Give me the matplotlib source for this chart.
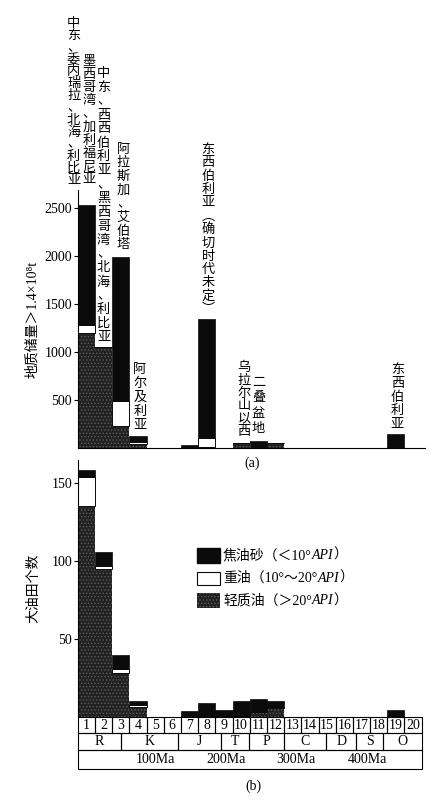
import matplotlib
matplotlib.use('Agg')
import matplotlib.pyplot as plt
from matplotlib.patches import Rectangle

plt.rcParams['font.family'] = ['Liberation Serif', 'Noto Sans CJK SC', 'DejaVu Sans']
plt.rcParams['hatch.linewidth'] = 0.6

# ---- data ----
bins = list(range(1, 21))

# (a) reserves, per age bin
res_light = [1200, 1050, 230, 45, 0, 0, 0, 10, 0, 55, 0, 50, 0, 0, 0, 0, 0, 0, 0, 0]
res_heavy = [80, 0, 260, 15, 0, 0, 0, 90, 0, 0, 0, 0, 0, 0, 0, 0, 0, 0, 0, 0]
res_tar = [1250, 0, 1500, 60, 0, 0, 30, 1240, 0, 0, 70, 0, 0, 0, 0, 0, 0, 0, 150, 0]

# (b) number of giant fields, per age bin
cnt_light = [135, 95, 28, 6.5, 0, 0, 0, 0, 0, 0, 3, 5.5, 0, 0, 0, 0, 0, 0, 0, 0]
cnt_heavy = [19, 2, 3, 1, 0, 0, 0, 0, 0, 0, 0, 1, 0, 0, 0, 0, 0, 0, 0, 0]
cnt_tar = [4, 8.5, 9, 3, 0, 0, 4, 8.8, 4.5, 10.5, 8.5, 3.5, 0, 0, 0, 0, 0, 0, 4.5, 0]

res_labels = ['中东、委内瑞拉、北海、利比亚', '墨西哥湾、加利福尼亚',
              '中东、西西伯利亚、黑西哥湾、北海、利比亚', '阿拉斯加、艾伯塔',
              '阿尔及利亚', '东西伯利亚︵确切时代未定︶', '乌拉尔山以西',
              '二叠盆地', '东西伯利亚']
# label placement: x centre, top, bottom (data units of panel a)
res_label_pos = [(-0.24, 4479, 2719), (0.66, 4094, 2719), (1.50, 3969, 1073),
                 (2.66, 3177, 2042), (3.62, 885, 156), (7.58, 3177, 1365),
                 (9.67, 896, 104), (10.51, 760, 115), (18.59, 885, 167)]

periods = ['R', 'K', 'J', 'T', 'P', 'C', 'D', 'S', 'O']
period_edges = [0, 2.52, 5.85, 8.33, 9.98, 12.0, 14.44, 16.2, 17.76, 20]
ma_labels = ['100Ma', '200Ma', '300Ma', '400Ma']
ma_pos = [4.5, 8.65, 12.7, 16.85]

legend_labels = [('焦油砂（＜10°', 'API', '）'),
                 ('重油（10°～20°', 'API', '）'),
                 ('轻质油（＞20°', 'API', '）')]

BLACK = '#0b0b0b'
GREY = '#222222'
SPECK = '#5c5c5c'


def stack(ax, light, heavy, tar):
    x = [b - 1 for b in bins]
    ax.bar(x, light, width=1, align='edge', color=GREY, hatch='.....',
           edgecolor=SPECK, linewidth=0)
    ax.bar(x, heavy, width=1, align='edge', bottom=light, color='white',
           edgecolor=BLACK, linewidth=0.7)
    bot = [a + b for a, b in zip(light, heavy)]
    ax.bar(x, tar, width=1, align='edge', bottom=bot, color=BLACK,
           edgecolor=BLACK, linewidth=0.5)


def vlabel(ax, text, x, top, bottom, size=9.5):
    step = (top - bottom) / len(text)
    for k, ch in enumerate(text):
        ax.text(x, top - (k + 0.5) * step, ch, ha='center', va='center',
                fontsize=size, clip_on=False)


fig = plt.figure(figsize=(4.31, 8.06), dpi=100)

# ---- (a) ----
ax1 = fig.add_axes([0.1803, 0.4442, 0.8061, 0.3201])
stack(ax1, res_light, res_heavy, res_tar)
ax1.set_xlim(0, 20.2)
ax1.set_ylim(0, 2687)
ax1.set_yticks([500, 1000, 1500, 2000, 2500])
ax1.set_xticks([])
ax1.spines[['top', 'right']].set_visible(False)
ax1.tick_params(axis='y', direction='out', length=3, labelsize=10, pad=1)
ax1.set_ylabel('地质储量＞1.4×10⁸t', fontsize=10, labelpad=4)
for t, (x, top, bottom) in zip(res_labels, res_label_pos):
    vlabel(ax1, t, x, top, bottom)

# ---- (b) ----
ax2 = fig.add_axes([0.1803, 0.1104, 0.8061, 0.3189])
stack(ax2, cnt_light, cnt_heavy, cnt_tar)
ax2.set_xlim(0, 20.2)
ax2.set_ylim(0, 164.7)
ax2.set_yticks([50, 100, 150])
ax2.set_xticks([])
ax2.spines[['top', 'right', 'bottom']].set_visible(False)
ax2.tick_params(axis='y', direction='out', length=3, labelsize=10, pad=1)
ax2.set_ylabel('大油田个数', fontsize=10, labelpad=8)

# time scale table under panel b
r1, r2, r3 = -10.26, -21.15, -33.3
for b in bins:
    ax2.add_patch(Rectangle((b - 1, r1), 1, -r1, fill=False, lw=0.8,
                            ec='black', clip_on=False))
    ax2.text(b - 0.5, r1 / 2, str(b), ha='center', va='center', fontsize=10)
for name, a, b in zip(periods, period_edges[:-1], period_edges[1:]):
    ax2.add_patch(Rectangle((a, r2), b - a, r1 - r2, fill=False, lw=0.8,
                            ec='black', clip_on=False))
    ax2.text((a + b) / 2, (r1 + r2) / 2, name, ha='center', va='center', fontsize=10)
ax2.add_patch(Rectangle((0, r3), 20, r2 - r3, fill=False, lw=0.8,
                        ec='black', clip_on=False))
for name, x in zip(ma_labels, ma_pos):
    ax2.text(x, (r2 + r3) / 2, name, ha='center', va='center', fontsize=10)

# legend
leg_rows = [(99.0, 108.3), (84.6, 93.1), (69.9, 79.5)]
leg_styles = [dict(color=BLACK),
              dict(facecolor='white', edgecolor=BLACK, lw=0.8),
              dict(facecolor=GREY, hatch='.....', edgecolor=SPECK, lw=0)]
for (y0, y1), st, (pre, it, post) in zip(leg_rows, leg_styles, legend_labels):
    ax2.add_patch(Rectangle((6.92, y0), 1.35, y1 - y0, **st))
    t1 = ax2.text(8.45, (y0 + y1) / 2, pre, ha='left', va='center', fontsize=10)
    t2 = ax2.annotate(it, xy=(1, 0), xycoords=t1, ha='left', va='bottom',
                      fontsize=10, style='italic')
    ax2.annotate(post, xy=(1, 0), xycoords=t2, ha='left', va='bottom', fontsize=10)

fig.text(252 / 431, 1 - 463 / 806, '(a)', ha='center', va='center', fontsize=10)
fig.text(253 / 431, 1 - 786 / 806, '(b)', ha='center', va='center', fontsize=10)

fig.savefig('out.png', dpi=100)
